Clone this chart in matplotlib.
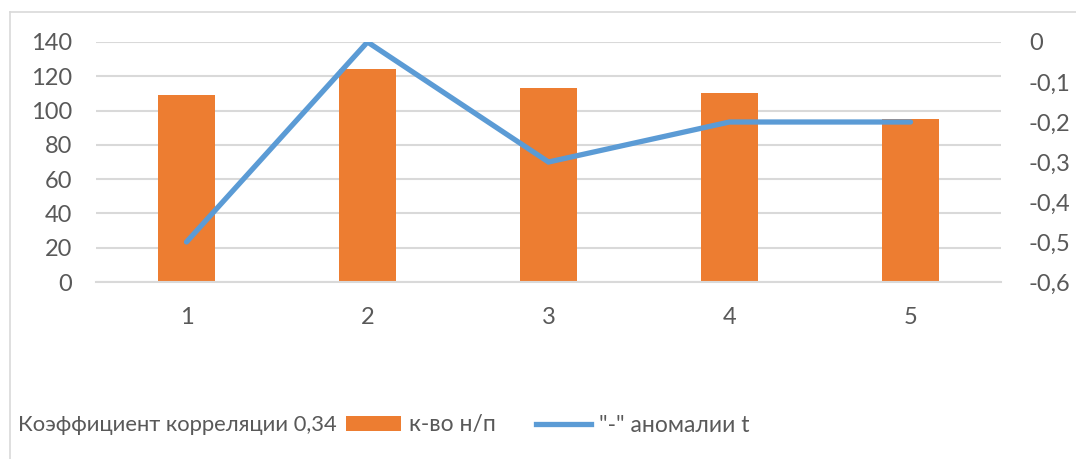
import numpy as np
import matplotlib.pyplot as plt
from matplotlib.ticker import FuncFormatter, MultipleLocator
from matplotlib.patches import Patch
from matplotlib.lines import Line2D

plt.rcParams['font.family'] = ['Lato', 'Roboto', 'DejaVu Sans']

categories = ['1', '2', '3', '4', '5']
count_np = [109, 124, 113, 110, 95]
anomaly_t = [-0.5, 0.0, -0.3, -0.2, -0.2]
corr_label = 'Коэффициент корреляции 0,34'
bar_label = 'к-во н/п'
line_label = '"-" аномалии t'

ORANGE = '#ED7D31'
BLUE = '#5B9BD5'
GRID = '#D9D9D9'
TEXT = '#595959'

fig = plt.figure(figsize=(10.76, 4.59), dpi=100)
ax = fig.add_axes([0.0892, 0.3856, 0.8411, 0.5229])
ax2 = ax.twinx()

x = np.arange(len(categories))
ax.bar(x, count_np, width=0.31, color=ORANGE, zorder=2)
ax2.plot(x, anomaly_t, color=BLUE, lw=3.8, solid_capstyle='round',
         solid_joinstyle='miter', zorder=3)

ax.set_xlim(-0.5, len(categories) - 0.5)
ax.set_ylim(0, 140)
ax.yaxis.set_major_locator(MultipleLocator(20))
ax2.set_ylim(-0.6, 0)
ax2.yaxis.set_major_locator(MultipleLocator(0.1))


def comma_fmt(v, pos):
    v = round(v, 1)
    if v == 0:
        return '0'
    return f'{v:.1f}'.replace('.', ',')


ax2.yaxis.set_major_formatter(FuncFormatter(comma_fmt))

ax.set_xticks(x)
ax.set_xticklabels(categories)
ax.grid(axis='y', color=GRID, lw=1.5, zorder=0)
ax.set_axisbelow(True)

for a in (ax, ax2):
    for s in a.spines.values():
        s.set_visible(False)
ax.spines['bottom'].set_visible(True)
ax.spines['bottom'].set_color(GRID)
ax.spines['bottom'].set_linewidth(1.5)

ax.tick_params(axis='both', length=0, labelsize=17, labelcolor=TEXT)
ax.tick_params(axis='y', pad=17)
ax.tick_params(axis='x', pad=18)
ax2.tick_params(axis='y', length=0, labelsize=17, labelcolor=TEXT, pad=20)

# outer frame of the chart area (only top and left edges show)
fig.add_artist(Line2D([10 / 1076, 1.0], [1 - 12 / 459] * 2, color=GRID, lw=1.2))
fig.add_artist(Line2D([10 / 1076] * 2, [0.0, 1 - 12 / 459], color=GRID, lw=1.2))

fig.text(18 / 1076, 1 - 425 / 459, corr_label, fontsize=15.8, color=TEXT,
         va='center', ha='left')
handles = [Patch(facecolor=ORANGE, edgecolor='none'),
           Line2D([0], [0], color=BLUE, lw=3.8)]
fig.legend(handles, [bar_label, line_label], loc='center left',
           bbox_to_anchor=(346 / 1076, 1 - 425 / 459), ncol=2, frameon=False,
           fontsize=16.5, labelcolor=TEXT, handlelength=2.4, handleheight=0.65,
           handletextpad=0.35, columnspacing=1.75, borderaxespad=0,
           borderpad=0)

fig.savefig('out.png', dpi=100, facecolor='white')
